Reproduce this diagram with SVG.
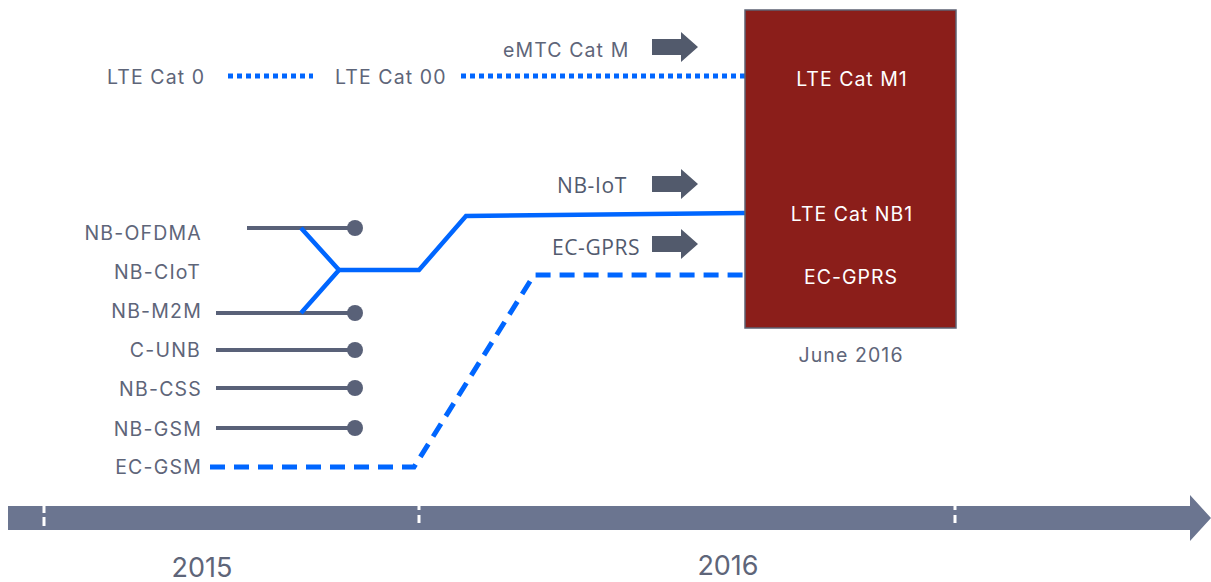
<svg xmlns="http://www.w3.org/2000/svg" width="1211" height="582" viewBox="0 0 1211 582">
<style>
.lbl{font-family:Inter,"Liberation Sans",sans-serif;font-size:19.5px;letter-spacing:1.1px;fill:#5e6579;}
.lblr{font-family:Inter,"Liberation Sans",sans-serif;font-size:19.5px;letter-spacing:1.2px;fill:#5e6579;text-anchor:end;}
.mid{font-family:"Open Sans","Liberation Sans",sans-serif;font-size:21px;letter-spacing:0.6px;fill:#525a6e;}
.box{font-family:Inter,"Liberation Sans",sans-serif;font-size:19.5px;letter-spacing:1px;fill:#ffffff;text-anchor:middle;}
.year{font-family:Inter,"Liberation Sans",sans-serif;font-size:27px;fill:#5e6579;text-anchor:middle;}
.grey{stroke:#596178;stroke-width:4;fill:none;}
.dot{fill:#596178;}
.blue{stroke:#0066ff;stroke-width:4.5;fill:none;stroke-linejoin:miter;}
.dash{stroke:#0066ff;stroke-width:5;fill:none;stroke-dasharray:15 9;}
.dotted{stroke:#0066ff;stroke-width:5;fill:none;stroke-dasharray:5 4;}
.barrow{fill:#525a6c;}
</style>
<defs>
<path id="blk" d="M0,-8 H29 V-15 L46,0 L29,15 V8 H0 Z"/>
</defs>

<g id="timeline">
<path d="M8,506 H1190 V495 L1211,518 L1190,541 V530 H8 Z" fill="#6b7590"/>
<line x1="44" y1="506" x2="44" y2="530" stroke="#ffffff" stroke-width="3" stroke-dasharray="7 4 9 4"/>
<line x1="419" y1="506" x2="419" y2="530" stroke="#ffffff" stroke-width="3" stroke-dasharray="4 5 8 7"/>
<line x1="955" y1="506" x2="955" y2="530" stroke="#ffffff" stroke-width="3" stroke-dasharray="4 5 8 7"/>
<text class="year" x="202" y="577">2015</text>
<text class="year" x="728" y="575">2016</text>
</g>

<g id="connectors">
<path class="dotted" d="M228,76 H313"/>
<path class="dotted" d="M461,76 H745"/>
<path class="grey" d="M247,228 H355"/>
<path class="grey" d="M216,313 H355"/>
<path class="grey" d="M216,350 H355"/>
<path class="grey" d="M216,388 H355"/>
<path class="grey" d="M216,428 H355"/>
<circle class="dot" cx="355" cy="228" r="8"/>
<circle class="dot" cx="355" cy="313" r="8"/>
<circle class="dot" cx="355" cy="350" r="8"/>
<circle class="dot" cx="355" cy="388" r="8"/>
<circle class="dot" cx="355" cy="428" r="8"/>
<path class="blue" d="M301,228 L339,270 L301,313"/>
<path class="blue" d="M339,270 H419 L466,216 L745,213"/>
<path class="dash" d="M210,467 H414 L534,275 H745"/>
<use href="#blk" x="652" y="47" class="barrow"/>
<use href="#blk" x="652" y="184" class="barrow"/>
<use href="#blk" x="652" y="244" class="barrow"/>
</g>

<g id="box">
<rect x="745" y="10" width="211" height="318" fill="#8b1e1a" stroke="#5d6273" stroke-width="1.5"/>
<text class="box" x="852" y="86">LTE Cat M1</text>
<text class="box" x="852" y="221">LTE Cat NB1</text>
<text class="box" x="851" y="284">EC-GPRS</text>
<text class="lbl" x="851" y="362" text-anchor="middle">June 2016</text>
</g>

<g id="labels">
<text class="lbl" x="107" y="84">LTE Cat 0</text>
<text class="lbl" x="335" y="84">LTE Cat 00</text>
<text class="lbl" x="503" y="57">eMTC Cat M</text>
<text class="mid" x="557" y="193">NB-IoT</text>
<text class="mid" x="552" y="255">EC-GPRS</text>
<text class="lblr" x="202" y="240">NB-OFDMA</text>
<text class="lblr" x="201" y="279">NB-CIoT</text>
<text class="lblr" x="202" y="318">NB-M2M</text>
<text class="lblr" x="201" y="357">C-UNB</text>
<text class="lblr" x="202" y="396">NB-CSS</text>
<text class="lblr" x="202" y="436">NB-GSM</text>
<text class="lblr" x="202" y="474">EC-GSM</text>
</g>
</svg>
